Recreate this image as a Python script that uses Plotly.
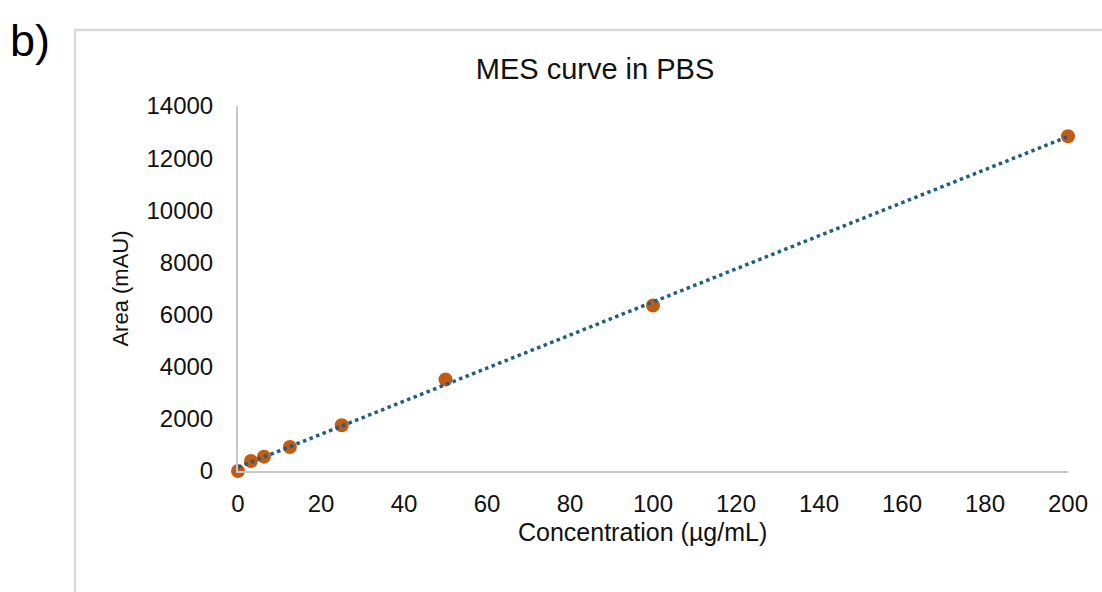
import numpy as np
import plotly.graph_objects as go

# Data
concentration = [0, 3.125, 6.25, 12.5, 25, 50, 100, 200]
area = [0, 384, 550, 920, 1753, 3510, 6348, 12842]
x_ticks = [0, 20, 40, 60, 80, 100, 120, 140, 160, 180, 200]
y_ticks = [0, 2000, 4000, 6000, 8000, 10000, 12000, 14000]
y_tick_text = ["0", "2000", "4000", "6000", "8000", "10000", "12000", "14000"]

W, H = 1102, 592
L, R, T, B = 238, 1068, 106, 471  # plot area pixel bounds

FONT = "Liberation Sans"
TXT = "#111111"

# linear trendline from data
slope, intercept = np.polyfit(concentration, area, 1)
tx = [0, 200]
ty = [intercept + slope * v for v in tx]

fig = go.Figure()
fig.add_trace(go.Scatter(
    x=concentration, y=area, mode="markers", cliponaxis=False,
    marker=dict(color="#C55A11", size=14, line=dict(width=0)),
    showlegend=False,
))
fig.add_trace(go.Scatter(
    x=tx, y=ty, mode="lines", cliponaxis=False,
    line=dict(color="#1F5F7F", width=3.5, dash="dot"),
    showlegend=False, hoverinfo="skip",
))

def px_x(p):
    return (p - L) / (R - L)

def px_y(p):
    return (B - p) / (B - T)

fig.add_shape(type="rect", xref="paper", yref="paper",
              x0=px_x(75), x1=px_x(1130), y0=px_y(640), y1=px_y(30),
              line=dict(color="#D9D9D9", width=2.5), fillcolor="rgba(0,0,0,0)",
              layer="below")

fig.add_annotation(text="b)", xref="paper", yref="paper",
                   x=px_x(8), y=px_y(40), xanchor="left", yanchor="middle",
                   showarrow=False, font=dict(family=FONT, size=45, color="#000000"))

fig.add_annotation(text="Concentration (µg/mL)", xref="paper", yref="paper",
                   x=px_x(642), y=px_y(532), xanchor="center", yanchor="middle",
                   showarrow=False, font=dict(family=FONT, size=25, color=TXT))

fig.update_layout(
    width=W, height=H,
    margin=dict(l=L, r=W - R, t=T, b=H - B, pad=0),
    paper_bgcolor="white", plot_bgcolor="white",
    title=dict(text="MES curve in PBS", x=595 / W, xref="container", xanchor="center",
               y=1 - 69 / H, yref="container", yanchor="middle",
               font=dict(family=FONT, size=29, color=TXT)),
    xaxis=dict(range=[0, 200], tickvals=x_ticks, showgrid=False, zeroline=False,
               showline=True, linecolor="#C8C8C8", linewidth=2,
               ticks="outside", ticklen=10, tickcolor="rgba(0,0,0,0)",
               tickfont=dict(family=FONT, size=24, color=TXT)),
    yaxis=dict(range=[0, 14000], tickvals=y_ticks, ticktext=y_tick_text,
               showgrid=False, zeroline=False,
               showline=True, linecolor="#C8C8C8", linewidth=2,
               ticks="outside", ticklen=18, tickcolor="rgba(0,0,0,0)",
               tickfont=dict(family=FONT, size=24, color=TXT),
               title=dict(text="Area (mAU)", standoff=12,
                          font=dict(family=FONT, size=22, color=TXT))),
)

fig.write_html("out.html")
